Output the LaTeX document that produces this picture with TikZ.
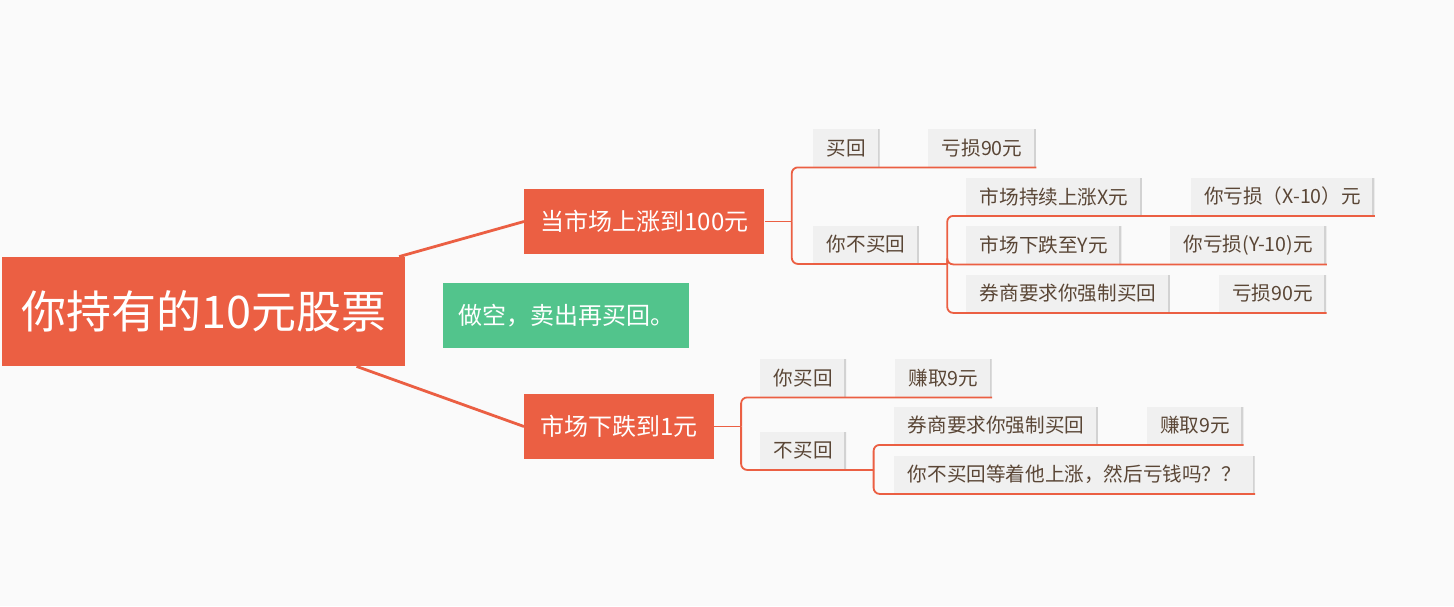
\documentclass[tikz,border=0pt]{standalone}
\usepackage{fontspec}
\setmainfont{Noto Sans CJK SC}
\usetikzlibrary{positioning}
\definecolor{accent}{HTML}{EB5F43}
\definecolor{hint}{HTML}{52C48C}
\definecolor{leafbg}{HTML}{F0F0F0}
\definecolor{leafedge}{HTML}{D2D2D2}
\definecolor{leaftext}{HTML}{5A4636}
\definecolor{canvas}{HTML}{FAFAFA}
\tikzset{topic/.style={fill=accent,text=white,font=\fontsize{12pt}{14pt}\selectfont,inner xsep=8pt,inner ysep=0pt,minimum height=32.5pt},rootbox/.style={topic,font=\fontsize{22.5pt}{26pt}\selectfont,inner xsep=9.5pt,minimum height=54.5pt},note/.style={topic,fill=hint,inner xsep=7.5pt},leaf/.style={fill=leafbg,text=leaftext,font=\fontsize{9.8pt}{11pt}\selectfont,inner xsep=6.75pt,inner ysep=0pt,minimum height=19pt,path picture={\draw[leafedge,line width=2pt] (path picture bounding box.north east) -- (path picture bounding box.south east);}},trunk/.style={accent,line width=1.4pt},branch/.style={accent,line width=0.9pt,rounded corners=3pt}}

\begin{document}
\begin{tikzpicture}[x=0.5pt,y=-0.5pt,node distance=24pt]
\fill[canvas] (0,0) rectangle (1454,606);
\node[rootbox,anchor=west] (stock) at (2,311.5) {你持有的10元股票};
\node[topic,anchor=west] (rise) at (524,221.5) {当市场上涨到100元};
\node[topic,anchor=west] (fall) at (524,426.5) {市场下跌到1元};
\node[note,anchor=west] (short) at (443,315.5) {做空，卖出再买回。};
% rise branch
\node[leaf,anchor=west] (rbuy) at (813,148) {买回};
\node[leaf,right=of rbuy] (rbuyres) {亏损90元};
\node[leaf,anchor=west] (rkeep) at (813,244.5) {你不买回};
\node[leaf,anchor=west] (kup) at (966,196.5) {市场持续上涨X元};
\node[leaf,right=of kup] (kupres) {你亏损（X-10）元};
\node[leaf,anchor=west] (kdown) at (966,245) {市场下跌至Y元};
\node[leaf,right=of kdown] (kdownres) {你亏损(Y-10)元};
\node[leaf,anchor=west] (kforce) at (966,293.5) {券商要求你强制买回};
\node[leaf,right=of kforce] (kforceres) {亏损90元};
% fall branch
\node[leaf,anchor=west] (fbuy) at (760,378) {你买回};
\node[leaf,right=of fbuy] (fbuyres) {赚取9元};
\node[leaf,anchor=west] (fkeep) at (760,450.5) {不买回};
\node[leaf,anchor=west] (fforce) at (894,425.5) {券商要求你强制买回};
\node[leaf,right=of fforce] (fforceres) {赚取9元};
\node[leaf,anchor=west] (fwait) at (894,474.5) {你不买回等着他上涨，然后亏钱吗？？};
\draw[trunk] (stock) -- (rise.west);\draw[trunk] (stock) -- (fall.west);
\coordinate[right=13.5pt of rise.east] (jr);\coordinate[right=13.5pt of fall.east] (jf);
\draw[branch] (rise.east) -- (jr);\draw[branch] (jr) |- (rbuy.south west) -- (rbuyres.south east);\draw[branch] (jr) |- (rkeep.south west) -- (rkeep.south east) -- ++(14pt,0) coordinate (jk);
\draw[branch] (jk) |- (kup.south west) -- (kupres.south east);\draw[branch] (jk) |- (kdown.south west) -- (kdownres.south east);\draw[branch] (jk) |- (kforce.south west) -- (kforceres.south east);
\draw[branch] (fall.east) -- (jf);\draw[branch] (jf) |- (fbuy.south west) -- (fbuyres.south east);\draw[branch] (jf) |- (fkeep.south west) -- (fkeep.south east) -- ++(13.5pt,0) coordinate (jw);
\draw[branch] (jw) |- (fforce.south west) -- (fforceres.south east);\draw[branch] (jw) |- (fwait.south west) -- (fwait.south east);
\end{tikzpicture}
\end{document}
